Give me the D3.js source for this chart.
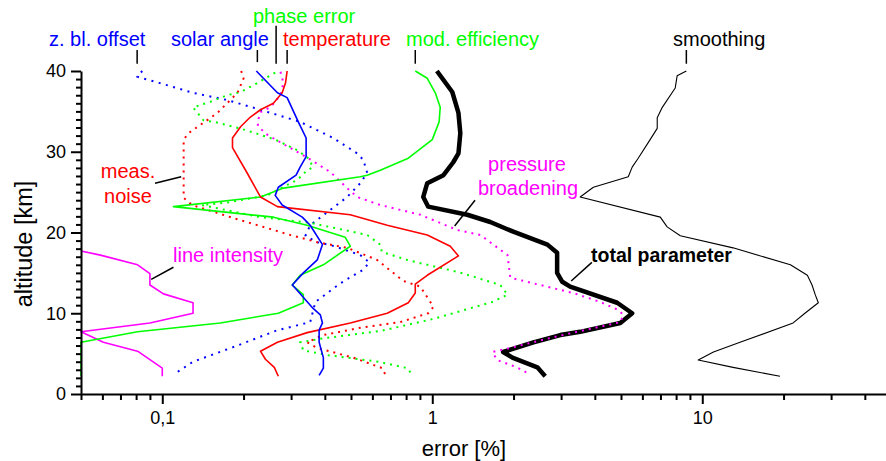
<!DOCTYPE html>
<html><head><meta charset="utf-8">
<script src="https://cdn.jsdelivr.net/npm/d3@7/dist/d3.min.js"></script>
<style>body{margin:0;background:#fff}svg{display:block}text{font-family:"Liberation Sans",Arial,Helvetica,sans-serif}</style>
</head><body><svg id="c" width="886" height="461"></svg>
<script>
// ---------- data (altitude in km, error in %) ----------
const xMajorTicks = [0.1, 1, 10];
const xMajorLabels = ["0,1", "1", "10"];
const yMajorTicks = [0, 10, 20, 30, 40];

const solarAlt = [40,37.3,36.7,33.7,31.7,29.4,28.1,27.1,25.6,24.6,23.4,21.9,20.9,18.5,16.6,15.0,13.5,13.1,10.6,9.8,8.8,7.9,6.4,4.5,3.2,2.3];
const solarErr = [0.223,0.267,0.290,0.319,0.341,0.341,0.324,0.313,0.269,0.262,0.278,0.330,0.353,0.392,0.375,0.333,0.303,0.311,0.362,0.385,0.392,0.381,0.381,0.395,0.395,0.381];

const modEffAlt = [40,39.1,37.3,35.5,33.7,31.5,29.2,27.7,27.1,26.9,25.5,24.4,23.2,21.9,20.9,19.4,18.3,16.0,14.7,13.5,12.3,11.3,10.0,8.8,7.7,6.4,2.2];
const modEffErr = [0.865,0.958,1.026,1.07,1.06,1.0,0.815,0.642,0.574,0.541,0.281,0.231,0.110,0.258,0.344,0.476,0.497,0.395,0.324,0.303,0.333,0.333,0.269,0.164,0.081,0.05,0.05];

const tempAlt = [40,38.5,37.3,36.0,35.2,34.3,33.1,31.7,30.5,27.4,24.4,23.2,22.2,20.9,19.7,18.3,17.1,14.7,13.6,12.5,11.3,10.0,8.8,7.6,6.4,5.3,4.3,3.3,2.2];
const tempErr = [0.290,0.286,0.278,0.258,0.231,0.212,0.195,0.182,0.182,0.206,0.231,0.267,0.497,0.681,0.958,1.166,1.25,0.958,0.865,0.865,0.815,0.681,0.497,0.344,0.267,0.231,0.241,0.26,0.269];

const noiseAlt = [40,39.1,37.3,34.9,34.2,32.3,31.5,24.3,23.4,21.8,19.7,18.8,18.1,16.6,14.0,13.3,10.8,10.0,8.9,8.2,7.3,6.4,5.7,4.5,3.2,2.4];
const noiseErr = [0.196,0.200,0.190,0.161,0.151,0.125,0.12,0.12,0.129,0.183,0.298,0.375,0.484,0.625,0.781,0.903,1.01,0.966,0.761,0.541,0.395,0.344,0.375,0.51,0.653,0.67];

const phaseAlt = [39.8,38.5,37.4,37.0,36.2,35.5,34.7,33.9,33.6,32.7,31.5,30.2,29.2,28.1,27.7,26.5,25.9,24.6,23.7,23.4,23.0,21.9,21.2,19.7,18.5,17.6,16.6,16.2,15.1,13.5,12.3,11.4,9.3,7.8,6.9,6.4,5.4,4.8,4.0,3.2,2.2];
const phaseErr = [0.262,0.225,0.195,0.174,0.151,0.130,0.136,0.142,0.161,0.203,0.262,0.316,0.347,0.362,0.344,0.316,0.29,0.245,0.174,0.14,0.16,0.231,0.353,0.574,0.642,0.65,0.808,0.903,1.25,1.786,1.9,1.67,1.01,0.642,0.395,0.324,0.333,0.412,0.631,0.808,0.85];

const zblAlt = [40,39.3,38.5,37.3,36.4,35.2,33.7,31.7,29.8,29.0,27.4,26.1,24.4,22.5,20.9,19.6,18.8,18.3,17.2,16.3,15.4,13.7,11.4,8.9,7.9,5.8,4.0,2.4];
const zblErr = [0.0843,0.0807,0.098,0.130,0.174,0.231,0.324,0.43,0.527,0.555,0.574,0.541,0.484,0.408,0.353,0.339,0.375,0.434,0.541,0.585,0.555,0.456,0.369,0.353,0.267,0.183,0.130,0.110];

const pressAlt = [39.9,38.5,37.0,35.5,34.9,33.6,33.1,32.1,30.6,29.2,27.5,25.5,24.4,23.4,22.2,20.3,19.7,17.2,14.4,12.5,11.4,10.4,9.8,8.9,7.1,5.8,5.2,4.2,3.3,2.4];
const pressErr = [0.274,0.281,0.274,0.251,0.231,0.225,0.227,0.245,0.293,0.347,0.419,0.484,0.527,0.642,0.903,1.24,1.506,1.9,1.945,3.33,4.19,4.89,5.1,4.97,2.86,1.995,1.67,1.74,2.06,2.31];

const totalAlt = [40,37.4,34.8,32.3,29.8,28.7,27.1,26.1,24.4,23.2,22.2,21.3,20.1,18.5,17.5,15.0,13.9,13.3,11.3,10.0,8.8,7.7,7.3,6.4,5.2,4.5,3.3,2.2];
const totalErr = [1.04,1.186,1.25,1.27,1.25,1.196,1.1,0.958,0.926,0.966,1.348,1.64,1.995,2.67,2.9,2.9,3.03,3.24,4.84,5.5,4.97,3.53,2.98,2.37,1.83,1.98,2.45,2.62];

const smoothAlt = [40,39.4,37.9,35.5,34.2,32.9,31.5,29.2,28.1,26.9,25.6,24.4,21.9,20.7,19.6,18.1,16.0,14.7,13.5,12.3,11.3,10.0,8.8,6.4,5.2,4.2,3.3,2.2];
const smoothErr = [8.73,8.07,7.94,7.11,6.81,6.81,6.41,5.79,5.5,5.32,3.95,3.53,6.99,7.41,8.29,13.0,21.2,24.5,25.5,26.2,26.9,24.0,21.7,13.8,11.0,9.66,13.0,19.4];

const lineIntAlt = [17.7,17.2,16.0,14.9,13.5,12.4,11.3,10.0,8.8,7.7,6.4,5.3,3.2,2.2];
const lineIntErr = [0.05,0.059,0.081,0.09,0.09,0.101,0.130,0.130,0.09,0.05,0.0605,0.081,0.1,0.1];

// ---------- chart ----------
const svg = d3.select("#c");
const x = d3.scaleLog().domain([0.05, 50]).range([81, 891]);
const y = d3.scaleLinear().domain([0, 40]).range([394, 71]);

const series = [
  {alt: smoothAlt, err: smoothErr, color: "#000", w: 1.1, dash: null},
  {alt: totalAlt, err: totalErr, color: "#000", w: 4.5, dash: null},
  {alt: pressAlt, err: pressErr, color: "#ff00ff", w: 2, dash: "2,5"},
  {alt: lineIntAlt, err: lineIntErr, color: "#ff00ff", w: 1.6, dash: null},
  {alt: zblAlt, err: zblErr, color: "#0000ff", w: 2, dash: "2,5.5"},
  {alt: phaseAlt, err: phaseErr, color: "#00ff00", w: 2, dash: "2,5"},
  {alt: noiseAlt, err: noiseErr, color: "#ff0000", w: 2, dash: "2,5"},
  {alt: modEffAlt, err: modEffErr, color: "#00ff00", w: 1.6, dash: null},
  {alt: tempAlt, err: tempErr, color: "#ff0000", w: 1.6, dash: null},
  {alt: solarAlt, err: solarErr, color: "#0000ff", w: 1.6, dash: null}
];

const line = d3.line().x(d => x(d[0])).y(d => y(d[1]));
series.forEach(s => {
  const pts = s.err.map((e, i) => [e, s.alt[i]]);
  svg.append("path").attr("d", line(pts))
    .attr("fill", "none").attr("stroke", s.color)
    .attr("stroke-width", s.w)
    .attr("stroke-linejoin", "round")
    .attr("stroke-dasharray", s.dash);
});

// ---------- axes ----------
const minorX = [];
[0.01, 0.1, 1, 10].forEach(d => { for (let k = 2; k <= 9; k++) { const v = +(d * k).toPrecision(3); if (v >= 0.05 && v <= 50 && !xMajorTicks.includes(v)) minorX.push(v); } });
const minorY = d3.range(0, 41).filter(v => v % 10 !== 0);

const gx = svg.append("g").attr("transform", "translate(0,394)");
gx.call(d3.axisBottom(x).tickValues(minorX).tickSize(6).tickSizeOuter(0).tickFormat(""));
gx.call(g => g.select(".domain").remove());
const gx2 = svg.append("g").attr("transform", "translate(0,394)");
gx2.call(d3.axisBottom(x).tickValues(xMajorTicks).tickSize(10).tickSizeOuter(0).tickPadding(7)
  .tickFormat((d, i) => xMajorLabels[i]));

const gy = svg.append("g").attr("transform", "translate(81,0)");
gy.call(d3.axisLeft(y).tickValues(minorY).tickSize(5).tickSizeOuter(0).tickFormat(""));
gy.call(g => g.select(".domain").remove());
const gy2 = svg.append("g").attr("transform", "translate(81,0)");
gy2.call(d3.axisLeft(y).tickValues(yMajorTicks).tickSize(10).tickSizeOuter(0).tickPadding(5).tickFormat(d3.format("d")));

svg.selectAll(".domain, .tick line").attr("stroke", "#000").attr("stroke-width", 2);
svg.selectAll(".tick text").attr("font-size", 18).attr("fill", "#000")
  .style("font-family", '"Liberation Sans",Arial,sans-serif');

svg.append("text").attr("x", 464).attr("y", 456).attr("text-anchor", "middle")
  .attr("font-size", 22).text("error [%]");
svg.append("text").attr("transform", "translate(32,244) rotate(-90)").attr("text-anchor", "middle")
  .attr("font-size", 23.5).text("altitude [km]");

// ---------- annotations ----------
const labels = [
  {t: "z. bl. offset", x: 49, y: 46, c: "#0000ff"},
  {t: "solar angle", x: 171, y: 46, c: "#0000ff"},
  {t: "phase error", x: 253, y: 23, c: "#00ff00"},
  {t: "temperature", x: 283, y: 46, c: "#ff0000"},
  {t: "mod. efficiency", x: 406, y: 46, c: "#00ff00"},
  {t: "smoothing", x: 673, y: 46, c: "#000"},
  {t: "meas.", x: 128, y: 178, c: "#ff0000", a: "middle"},
  {t: "noise", x: 128, y: 203, c: "#ff0000", a: "middle"},
  {t: "line intensity", x: 173, y: 262, c: "#ff00ff"},
  {t: "pressure", x: 527, y: 171, c: "#ff00ff", a: "middle"},
  {t: "broadening", x: 528, y: 195, c: "#ff00ff", a: "middle"},
  {t: "total parameter", x: 591, y: 262, c: "#000", b: true}
];
labels.forEach(l => {
  svg.append("text").attr("x", l.x).attr("y", l.y).attr("fill", l.c)
    .attr("font-size", l.b ? 19.5 : 20).attr("font-weight", l.b ? "bold" : null)
    .attr("text-anchor", l.a || "start").text(l.t);
});
// leader lines [x1 (err), y1 (km), x2 (err), y2 (km)]
const leaders = [
  [0.0807, 42.6, 0.0807, 40.9],
  [0.225, 42.6, 0.225, 41.1],
  [0.264, 45.6, 0.264, 40.9],
  [0.29, 42.6, 0.29, 40.9],
  [0.865, 42.6, 0.865, 40.9],
  [8.73, 42.6, 8.73, 40.9],
  [0.094, 26.1, 0.1175, 26.9],
  [0.091, 14.2, 0.110, 15.7],
  [1.21, 20.8, 1.44, 24.0],
  [3.27, 14.0, 3.9, 16.3]
];
leaders.forEach(d => {
  svg.append("line").attr("x1", x(d[0])).attr("y1", y(d[1])).attr("x2", x(d[2])).attr("y2", y(d[3]))
    .attr("stroke", "#000").attr("stroke-width", 1.5);
});
</script></body></html>
